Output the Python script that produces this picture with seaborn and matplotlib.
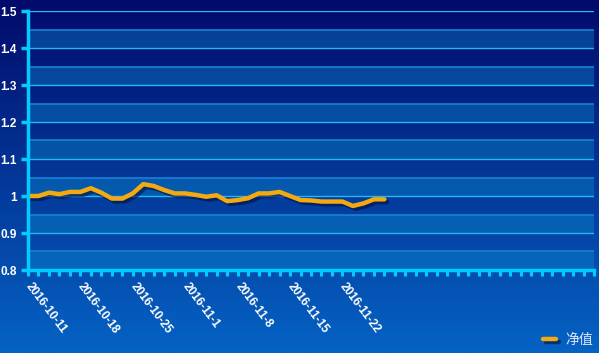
import numpy as np
import pandas as pd
import seaborn as sns
import matplotlib.pyplot as plt
import matplotlib.patheffects as pe
from matplotlib.colors import LinearSegmentedColormap

dates = ["2016-10-11", "2016-10-12", "2016-10-13", "2016-10-14", "2016-10-17",
         "2016-10-18", "2016-10-19", "2016-10-20", "2016-10-21", "2016-10-24",
         "2016-10-25", "2016-10-26", "2016-10-27", "2016-10-28", "2016-10-31",
         "2016-11-1", "2016-11-2", "2016-11-3", "2016-11-4", "2016-11-7",
         "2016-11-8", "2016-11-9", "2016-11-10", "2016-11-11", "2016-11-14",
         "2016-11-15", "2016-11-16", "2016-11-17", "2016-11-18", "2016-11-21",
         "2016-11-22", "2016-11-23", "2016-11-24", "2016-11-25", "2016-11-28"]
nav = [1.000, 1.000, 1.009, 1.005, 1.011, 1.011, 1.021, 1.009, 0.993, 0.993,
       1.007, 1.032, 1.027, 1.016, 1.007, 1.007, 1.003, 0.998, 1.002, 0.986,
       0.989, 0.994, 1.007, 1.007, 1.011, 1.000, 0.989, 0.988, 0.985, 0.985,
       0.985, 0.973, 0.980, 0.991, 0.991]
n_slots = 55
series_name = "净值"

df = pd.DataFrame({"i": np.arange(len(nav)), "nav": nav})

sns.set_style("white")
plt.rcParams['font.family'] = ['Liberation Sans', 'Noto Sans CJK SC', 'DejaVu Sans']

fig = plt.figure(figsize=(5.99, 3.53), dpi=100)

# background gradient
bg = fig.add_axes([0, 0, 1, 1], zorder=0)
cmap = LinearSegmentedColormap.from_list("bg", ["#020a6b", "#0563c4"])
bg.imshow(np.linspace(0, 1, 256).reshape(-1, 1), aspect="auto", cmap=cmap,
          extent=[0, 1, 0, 1])
bg.set_axis_off()

ax = fig.add_axes([28 / 599, 83 / 353, 566 / 599, 259 / 353], zorder=1)
ax.set_facecolor("none")

for lo in np.arange(0.8, 1.5, 0.1):
    ax.axhspan(lo, lo + 0.05, color="#0a90d0", alpha=0.38, lw=0, zorder=0)
    ax.axhline(lo + 0.05, color="#1a80d4", lw=1.2, zorder=0.5)
for g in np.arange(0.9, 1.51, 0.1):
    ax.axhline(g, color="#22b8f2", lw=1, zorder=0.6)

sns.lineplot(data=df, x="i", y="nav", ax=ax, color="#f4a911", lw=3.2,
             label=series_name, legend=False, zorder=3,
             path_effects=[pe.SimpleLineShadow(offset=(2, -2), shadow_color="#001040", alpha=0.6),
                           pe.Normal()])

ax.set_xlim(0, n_slots - 1)
ax.set_ylim(0.8, 1.5)
ax.set_xlabel("")
ax.set_ylabel("")

labels = [dates[i] if (i < len(dates) and i % 5 == 0) else "" for i in range(n_slots)]
ax.set_xticks(range(n_slots))
ax.set_xticklabels(labels, rotation=-53, ha="left", va="center", rotation_mode="anchor",
                   color="white", fontsize=8.5, fontweight="bold")
yt = np.round(np.arange(0.8, 1.51, 0.1), 1)
ax.set_yticks(yt)
ax.set_yticklabels(["%g" % v for v in yt], color="white", fontsize=8.5, fontweight="bold")

ax.tick_params(axis="x", bottom=True, direction="out", length=4, width=2.2,
               color="#00ccff", pad=6)
ax.tick_params(axis="y", left=True, direction="out", length=5, width=2.5,
               color="#00ccff", pad=3)

for s in ["top", "right"]:
    ax.spines[s].set_visible(False)
for s in ["left", "bottom"]:
    ax.spines[s].set_color("#00ccff")
    ax.spines[s].set_linewidth(2.5)
    ax.spines[s].set_zorder(4)

leg = fig.legend(handles=ax.get_lines()[-1:], labels=[series_name],
                 loc="center right", bbox_to_anchor=(1.0, 13 / 353), frameon=False,
                 handlelength=0.95, handletextpad=0.7, fontsize=10,
                 borderaxespad=0.2, borderpad=0.2)
for t in leg.get_texts():
    t.set_color("#dde6f5")

fig.savefig("out.png", dpi=100)
